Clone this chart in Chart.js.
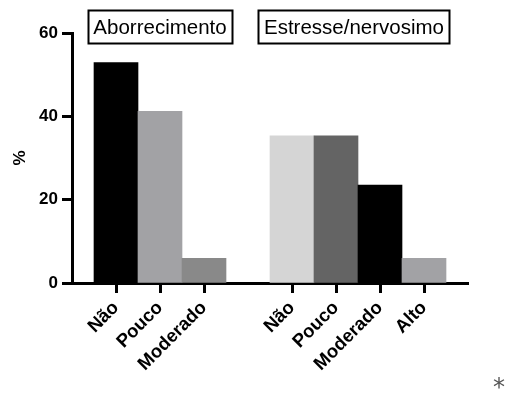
<!DOCTYPE html>
<html lang="pt">
<head>
  <meta charset="UTF-8">
  <title>Aborrecimento e Estresse/nervosimo</title>
  <script src="https://cdn.jsdelivr.net/npm/chart.js"></script>
  <style>
    body {
      margin: 0;
      padding: 0;
      background: #fff;
    }

    #wrap {
      position: relative;
      width: 506px;
      height: 394px;
    }

    #star {
      position: absolute;
      left: 493px;
      top: 375px;
      font-family: "DejaVu Sans", sans-serif;
      font-size: 24px;
      line-height: 24px;
      color: #555;
    }
  </style>
</head>
<body>

  <div id="wrap">
    <canvas id="myChart" width="506" height="394"></canvas>
    <div id="star">*</div>
  </div>

  <script>
    // Data (percent)
    var groupNames = ['Aborrecimento', 'Estresse/nervosimo'];
    var group1Labels = ['Não', 'Pouco', 'Moderado'];
    var group1Values = [52.9, 41.2, 5.9];
    var group1Colors = ['#000000', '#a2a2a5', '#898989'];
    var group2Labels = ['Não', 'Pouco', 'Moderado', 'Alto'];
    var group2Values = [35.3, 35.3, 23.5, 5.9];
    var group2Colors = ['#d5d5d5', '#646464', '#000000', '#a2a2a5'];
    var yTicks = [0, 20, 40, 60];

    // empty slots: one at each end (half a bar of room) and one between groups
    var none = 'rgba(0,0,0,0)';
    var labels = [''].concat(group1Labels, [''], group2Labels, ['']);
    var values = [null].concat(group1Values, [null], group2Values, [null]);
    var colors = [none].concat(group1Colors, [none], group2Colors, [none]);
    var g1Start = 1;
    var g1End = g1Start + group1Labels.length - 1;
    var g2Start = g1End + 2;
    var g2End = g2Start + group2Labels.length - 1;

    var font = "'Liberation Sans', Arial, sans-serif";

    // boxes with the group names above each group
    var groupBoxes = {
      id: 'groupBoxes',
      afterDraw: function (chart) {
        var ctx = chart.ctx;
        var x = chart.scales.x;
        var ranges = [[g1Start, g1End], [g2Start, g2End]];
        var shift = [0, -4];
        ctx.save();
        ctx.font = '20.5px ' + font;
        ctx.textAlign = 'center';
        ctx.textBaseline = 'middle';
        ctx.fillStyle = '#000';
        ctx.strokeStyle = '#000';
        ctx.lineWidth = 2;
        for (var i = 0; i < groupNames.length; i++) {
          var cx = (x.getPixelForValue(ranges[i][0]) + x.getPixelForValue(ranges[i][1])) / 2 + shift[i];
          var w = ctx.measureText(groupNames[i]).width + 11;
          ctx.strokeRect(Math.round(cx - w / 2) + 0.5, 10.5, Math.round(w), 33);
          ctx.fillText(groupNames[i], cx, 28);
        }
        ctx.restore();
      }
    };

    var ctx = document.getElementById('myChart').getContext('2d');

    var myChart = new Chart(ctx, {
      type: 'bar',
      data: {
        labels: labels,
        datasets: [{
          data: values,
          backgroundColor: colors,
          borderWidth: 0,
          barPercentage: 1,
          categoryPercentage: 1
        }]
      },
      options: {
        responsive: false,
        animation: false,
        layout: {
          padding: { top: 33, right: 38, left: 10, bottom: 0 }
        },
        plugins: {
          legend: { display: false },
          tooltip: { enabled: false }
        },
        scales: {
          x: {
            offset: false,
            z: 1,
            afterFit: function (scale) { scale.height = 111; },
            grid: {
              offset: false,
              drawOnChartArea: false,
              tickLength: 10,
              tickWidth: 3,
              tickColor: function (c) {
                return labels[c.index] === '' ? none : '#000';
              }
            },
            border: { display: true, color: '#000', width: 3 },
            ticks: {
              autoSkip: false,
              minRotation: 45,
              maxRotation: 45,
              padding: 4,
              color: '#000',
              font: { family: font, size: 18.5, weight: 'bold' }
            }
          },
          y: {
            min: 0,
            max: 60,
            z: 1,
            afterFit: function (scale) { scale.width = 62; },
            afterBuildTicks: function (scale) {
              scale.ticks = yTicks.map(function (v) { return { value: v }; });
            },
            grid: {
              drawOnChartArea: false,
              tickLength: 10,
              tickWidth: 3,
              tickColor: '#000'
            },
            border: { display: true, color: '#000', width: 3 },
            ticks: {
              padding: 4,
              color: '#000',
              font: { family: font, size: 17, weight: 'bold' }
            },
            title: {
              display: true,
              text: '%',
              color: '#000',
              padding: 0,
              font: { family: font, size: 17, weight: 'bold' }
            }
          }
        }
      },
      plugins: [groupBoxes]
    });
  </script>

</body>
</html>
